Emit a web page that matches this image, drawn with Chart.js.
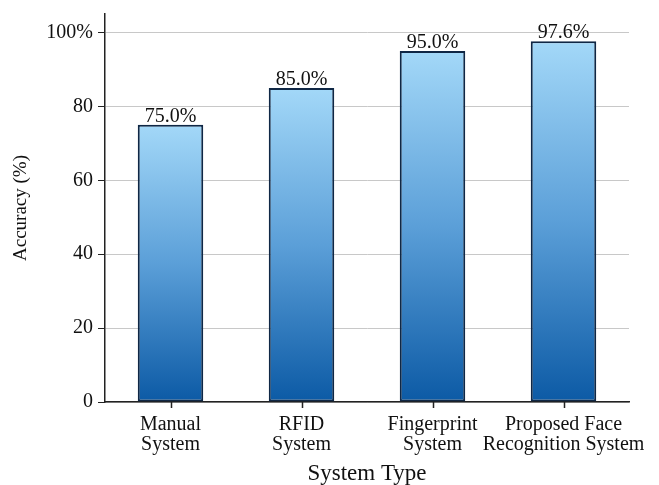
<!DOCTYPE html>
<html>
<head>
<meta charset="utf-8">
<script src="https://cdn.jsdelivr.net/npm/chart.js@4.4.0/dist/chart.umd.min.js"></script>
<style>
  html, body { margin: 0; padding: 0; background: #fff; }
  #wrap { width: 659px; height: 485px; }
</style>
</head>
<body>
<div id="wrap"><canvas id="chart"></canvas></div>
<script>
const categories = [['Manual', 'System'], ['RFID', 'System'], ['Fingerprint', 'System'], ['Proposed Face', 'Recognition System']];
const accuracy = [75.0, 85.0, 95.0, 97.6];
const yTicks = [0, 20, 40, 60, 80, 100];

const serif = 'Liberation Serif';

// bar fill: light blue at the top of each bar, dark blue at the base
function barGradient(ctx) {
  const chart = ctx.chart;
  if (!chart.chartArea || ctx.dataIndex === undefined) return '#4a90d0';
  const y = chart.scales.y;
  const top = y.getPixelForValue(accuracy[ctx.dataIndex]);
  const base = y.getPixelForValue(0);
  const g = chart.ctx.createLinearGradient(0, top, 0, base);
  g.addColorStop(0, '#a3d8f8');
  g.addColorStop(0.5, '#5b9fd8');
  g.addColorStop(1, '#0c5aa5');
  return g;
}

// value labels above bars + small tick marks under each category
const extras = {
  id: 'extras',
  afterDatasetsDraw(chart) {
    const c = chart.ctx;
    const meta = chart.getDatasetMeta(0);
    c.save();
    c.font = `20px "${serif}"`;
    c.fillStyle = '#111';
    c.textAlign = 'center';
    c.textBaseline = 'alphabetic';
    meta.data.forEach((bar, i) => {
      c.fillText(accuracy[i].toFixed(1) + '%', bar.x, bar.y - 3);
    });
    const x = chart.scales.x;
    c.strokeStyle = '#222';
    c.lineWidth = 1.5;
    c.beginPath();
    x.ticks.forEach((t, i) => {
      const px = Math.round(x.getPixelForTick(i)) + 0.5;
      c.moveTo(px, x.top);
      c.lineTo(px, x.top + 6);
    });
    c.stroke();
    c.restore();
  }
};

new Chart(document.getElementById('chart'), {
  type: 'bar',
  data: {
    labels: categories,
    datasets: [{
      data: accuracy,
      backgroundColor: barGradient,
      borderColor: '#0f2745',
      borderWidth: 2,
      borderSkipped: false,
      barPercentage: 0.5,
      categoryPercentage: 1
    }]
  },
  options: {
    responsive: true,
    maintainAspectRatio: false,
    animation: false,
    layout: { padding: { top: 14, right: 30, left: 0, bottom: 0 } },
    plugins: { legend: { display: false }, tooltip: { enabled: false } },
    scales: {
      x: {
        grid: { display: false },
        border: { display: true, color: '#222', width: 1.5 },
        ticks: { color: '#111', font: { family: serif, size: 20, lineHeight: 1.0 }, padding: 5, maxRotation: 0, autoSkip: false },
        title: { display: true, text: 'System Type', color: '#111', font: { family: serif, size: 23, lineHeight: 1.0 }, padding: { top: 0, bottom: 0 } },
        afterFit(scale) { scale.height = 83; }
      },
      y: {
        min: 0,
        max: 105,
        afterBuildTicks(scale) { scale.ticks = yTicks.map(v => ({ value: v })); },
        grid: { color: '#c8c8c8', lineWidth: 1, tickColor: '#222', tickLength: 7 },
        border: { color: '#222', width: 1.5 },
        ticks: {
          color: '#111',
          font: { family: serif, size: 20 },
          padding: 5,
          callback: v => v === 100 ? '100%' : String(v)
        },
        title: { display: true, text: 'Accuracy (%)', color: '#111', font: { family: serif, size: 19 }, padding: { top: 10, bottom: 8 } },
        afterFit(scale) {
          scale.width = 105;
          scale.paddingTop = 0;
          scale.paddingBottom = 0;
        }
      }
    }
  },
  plugins: [extras]
});
</script>
</body>
</html>
